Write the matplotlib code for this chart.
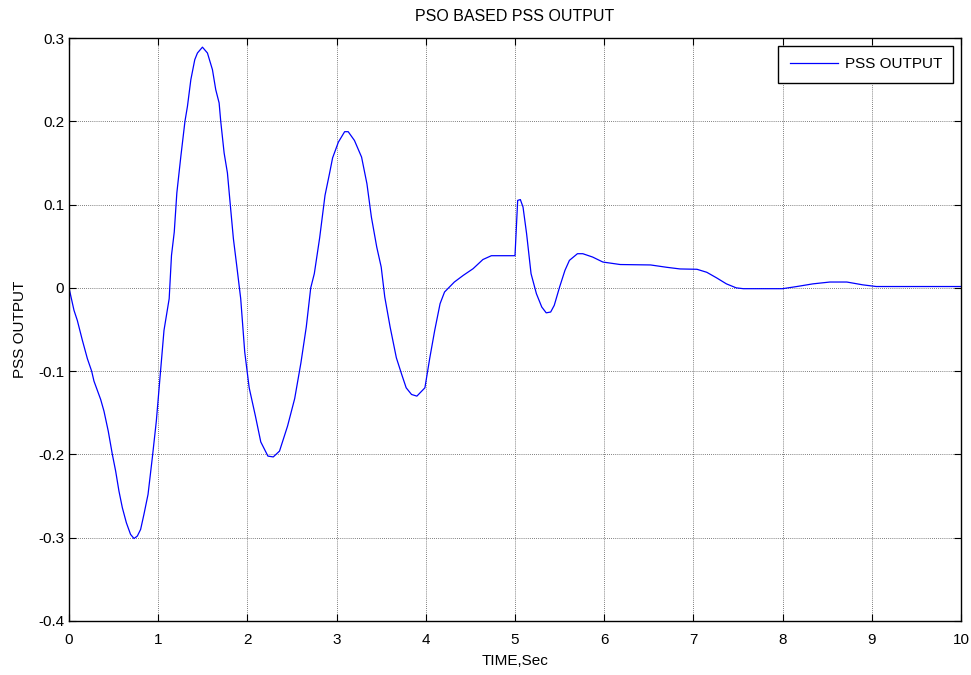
import matplotlib
matplotlib.use("Agg")
import matplotlib.pyplot as plt

time_s = [0.0, 0.056, 0.093, 0.15, 0.206, 0.254, 0.28, 0.355, 0.392, 0.44, 0.486, 0.523, 0.56,
          0.598, 0.643, 0.69, 0.729, 0.766, 0.803, 0.84, 0.886, 0.934, 0.979, 1.016, 1.065,
          1.123, 1.149, 1.18, 1.209, 1.254, 1.3, 1.328, 1.366, 1.41, 1.44, 1.496, 1.552,
          1.608, 1.645, 1.683, 1.701, 1.739, 1.776, 1.813, 1.843, 1.88, 1.925,
          1.97, 2.02, 2.09, 2.15, 2.23, 2.29, 2.36, 2.45, 2.53,
          2.6, 2.66, 2.71, 2.75, 2.81, 2.87, 2.92, 2.955, 3.02, 3.09, 3.13, 3.2, 3.28, 3.34,
          3.39, 3.45, 3.5, 3.54, 3.6, 3.67, 3.73, 3.78, 3.84, 3.9, 3.99, 4.045, 4.1, 4.16,
          4.21, 4.32, 4.42, 4.53, 4.64, 4.735, 5.0, 5.03, 5.06, 5.09, 5.13, 5.18, 5.24, 5.3,
          5.35, 5.4, 5.44, 5.5, 5.56, 5.61, 5.7, 5.76, 5.87, 5.985, 6.18, 6.52, 6.7, 6.85,
          7.04, 7.15, 7.26, 7.37, 7.48, 7.56, 8.0, 8.16, 8.34, 8.53, 8.72, 8.9, 9.05, 10.0]
pss_output = [0.0, -0.027, -0.039, -0.063, -0.085, -0.1, -0.112, -0.134, -0.148, -0.172, -0.2,
              -0.22, -0.244, -0.264, -0.282, -0.296, -0.301, -0.298, -0.29, -0.272, -0.248,
              -0.204, -0.16, -0.113, -0.051, -0.013, 0.039, 0.067, 0.114, 0.158, 0.2, 0.218,
              0.25, 0.274, 0.282, 0.289, 0.282, 0.262, 0.238, 0.222, 0.2, 0.162, 0.138, 0.094,
              0.059, 0.027, -0.013,
              -0.077, -0.12, -0.154, -0.185, -0.202, -0.203, -0.196, -0.166, -0.133, -0.09,
              -0.047, 0.0, 0.017, 0.06, 0.111, 0.137, 0.156, 0.175, 0.1875, 0.1875, 0.177,
              0.157, 0.125, 0.085, 0.049, 0.025, -0.011, -0.047, -0.084, -0.104, -0.12, -0.128,
              -0.13, -0.12, -0.084, -0.051, -0.019, -0.005, 0.007, 0.015, 0.023, 0.034, 0.0386,
              0.0386, 0.105, 0.106, 0.097, 0.065, 0.017, -0.007, -0.023, -0.03, -0.029, -0.021,
              0.001, 0.021, 0.033, 0.041, 0.041, 0.037, 0.031, 0.028, 0.0275, 0.0247, 0.0227,
              0.0223, 0.0187, 0.012, 0.0048, 0.0, -0.001, -0.001, 0.0016, 0.0048, 0.007, 0.007,
              0.0036, 0.0016, 0.0016]

x_ticks = [0, 1, 2, 3, 4, 5, 6, 7, 8, 9, 10]
y_ticks = [-0.4, -0.3, -0.2, -0.1, 0, 0.1, 0.2, 0.3]
y_tick_labels = ["-0.4", "-0.3", "-0.2", "-0.1", "0", "0.1", "0.2", "0.3"]

plt.rcParams["font.family"] = ["Liberation Sans", "DejaVu Sans"]

fig = plt.figure(figsize=(9.71, 6.75), dpi=100)
ax = fig.add_axes([69 / 971, 1 - 621 / 675, (961 - 69) / 971, (621 - 38) / 675])
ax.plot(time_s, pss_output, color="#0000ff", linewidth=0.9, label="PSS OUTPUT")
ax.set_xlim(0, 10)
ax.set_ylim(-0.4, 0.3)
ax.set_xticks(x_ticks)
ax.set_yticks(y_ticks)
ax.set_yticklabels(y_tick_labels)
ax.grid(True, color="#555555", linestyle=(0, (1, 1.5)), linewidth=0.6)
ax.tick_params(direction="in", top=True, right=True, length=5, width=0.8, labelsize=11)
ax.tick_params(axis="x", pad=8.5)
ax.tick_params(axis="y", pad=3.5)
for s in ax.spines.values():
    s.set_linewidth(1.0)
ax.set_title("PSO BASED PSS OUTPUT", fontsize=11.5, pad=12)
ax.set_xlabel("TIME,Sec", fontsize=11, labelpad=5)
ax.set_ylabel("PSS OUTPUT", fontsize=11, labelpad=8)
leg = ax.legend(loc="upper right", fontsize=11, fancybox=False, framealpha=1,
                edgecolor="black", borderaxespad=0.5, handlelength=3.2,
                handletextpad=0.4, borderpad=0.75)
leg.get_frame().set_linewidth(1.0)
fig.savefig("out.png", dpi=100)
